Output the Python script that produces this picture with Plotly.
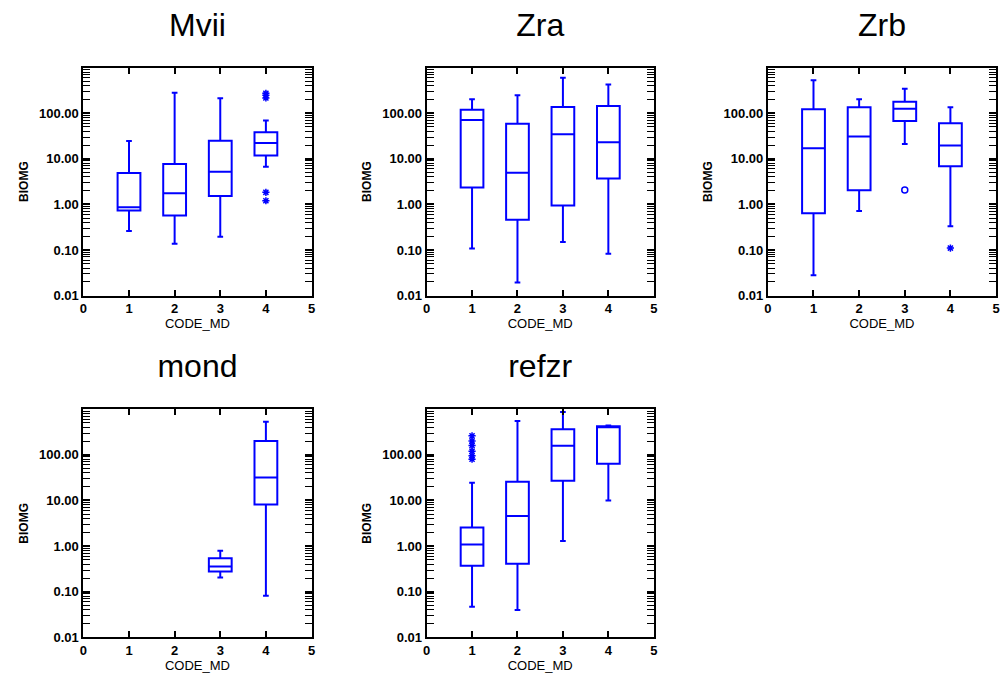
import plotly.graph_objects as go

W, H = 1004, 684

titles = ["Mvii", "Zra", "Zrb", "mond", "refzr"]

# ---- data ----
mvii_x = [1, 2, 3, 4]
mvii_q1 = [0.73, 0.57, 1.53, 11.9]
mvii_med = [0.86, 1.75, 5.2, 22.3]
mvii_q3 = [4.9, 7.7, 25, 38.4]
mvii_lo = [0.26, 0.136, 0.195, 6.7]
mvii_hi = [24.6, 283, 214, 69.5]
mvii_star_x = [4, 4, 4, 4, 4]
mvii_star_y = [274, 247, 217, 1.84, 1.2]

zra_x = [1, 2, 3, 4]
zra_q1 = [2.36, 0.46, 0.95, 3.68]
zra_med = [70.7, 4.96, 34.8, 23]
zra_q3 = [120, 59, 137, 144]
zra_lo = [0.108, 0.0194, 0.15, 0.083]
zra_hi = [203, 248, 604, 427]

zrb_x = [1, 2, 3, 4]
zrb_q1 = [0.64, 2.03, 67.3, 6.9]
zrb_med = [17.1, 31, 126, 19.5]
zrb_q3 = [122, 135, 178, 60]
zrb_lo = [0.028, 0.72, 21.2, 0.33]
zrb_hi = [530, 203, 345, 135]
zrb_circ_x = [3]
zrb_circ_y = [2.07]
zrb_star_x = [4]
zrb_star_y = [0.11]

mond_x = [3, 4]
mond_q1 = [0.277, 8.2]
mond_med = [0.36, 31.8]
mond_q3 = [0.54, 201]
mond_lo = [0.206, 0.082]
mond_hi = [0.79, 531]

refzr_x = [1, 2, 3, 4]
refzr_q1 = [0.37, 0.41, 27, 63.5]
refzr_med = [1.09, 4.6, 157, 425]
refzr_q3 = [2.56, 25.7, 364, 425]
refzr_lo = [0.047, 0.04, 1.3, 10]
refzr_hi = [24.4, 550, 870, 440]
refzr_star_x = [1, 1, 1, 1, 1, 1]
refzr_star_y = [80, 95, 120, 160, 200, 260]

ytick_vals = [0.01, 0.1, 1, 10, 100]
ytick_text = ["0.01", "0.10", "1.00", "10.00", "100.00"]
xtick_vals = [0, 1, 2, 3, 4, 5]

panels = [
    dict(x=mvii_x, q1=mvii_q1, med=mvii_med, q3=mvii_q3, lo=mvii_lo, hi=mvii_hi,
         star=(mvii_star_x, mvii_star_y), circ=None),
    dict(x=zra_x, q1=zra_q1, med=zra_med, q3=zra_q3, lo=zra_lo, hi=zra_hi,
         star=None, circ=None),
    dict(x=zrb_x, q1=zrb_q1, med=zrb_med, q3=zrb_q3, lo=zrb_lo, hi=zrb_hi,
         star=(zrb_star_x, zrb_star_y), circ=(zrb_circ_x, zrb_circ_y)),
    dict(x=mond_x, q1=mond_q1, med=mond_med, q3=mond_q3, lo=mond_lo, hi=mond_hi,
         star=None, circ=None),
    dict(x=refzr_x, q1=refzr_q1, med=refzr_med, q3=refzr_q3, lo=refzr_lo, hi=refzr_hi,
         star=(refzr_star_x, refzr_star_y), circ=None),
]

# pixel boxes (left, right, top, bottom)
boxes = [
    (80, 310, 68.5, 299),
    (426, 655, 68.5, 299),
    (770, 1000, 68.5, 299),
    (80, 310, 414, 645),
    (426, 655, 414, 645),
]

BLUE = "#0000ff"
FONT = "Arial, Liberation Sans, sans-serif"

fig = go.Figure()
layout = dict(
    width=W, height=H, margin=dict(l=0, r=0, t=0, b=0),
    paper_bgcolor="white", plot_bgcolor="white", showlegend=False,
    font=dict(family=FONT, color="black"),
)

for i, (p, b, title) in enumerate(zip(panels, boxes, titles)):
    n = "" if i == 0 else str(i + 1)
    xa, ya = "x" + n, "y" + n
    tn = str(6 + i)  # overlay top axis carrying the panel title
    fig.add_trace(go.Box(
        x=p["x"], q1=p["q1"], median=p["med"], q3=p["q3"],
        lowerfence=p["lo"], upperfence=p["hi"], boxpoints=False,
        width=0.5, whiskerwidth=0.25,
        line=dict(color=BLUE, width=2), fillcolor="rgba(0,0,0,0)",
        xaxis=xa, yaxis=ya, hoverinfo="skip",
    ))
    if p["star"]:
        fig.add_trace(go.Scatter(
            x=p["star"][0], y=p["star"][1], mode="markers",
            marker=dict(symbol="asterisk-open", size=6, color=BLUE,
                        line=dict(color=BLUE, width=1.5)),
            xaxis=xa, yaxis=ya,
        ))
    if p["circ"]:
        fig.add_trace(go.Scatter(
            x=p["circ"][0], y=p["circ"][1], mode="markers",
            marker=dict(symbol="circle-open", size=6, color=BLUE,
                        line=dict(color=BLUE, width=1.5)),
            xaxis=xa, yaxis=ya,
        ))
    # empty trace so the title axis is drawn
    fig.add_trace(go.Scatter(x=[], y=[], mode="markers", xaxis="x" + tn, yaxis=ya,
                             hoverinfo="skip"))
    l, r, t, bt = b
    xdom = [l / W, r / W]
    ydom = [(H - bt) / H, (H - t) / H]
    layout["xaxis" + n] = dict(
        domain=xdom, anchor=ya, range=[0, 5], tickmode="array", tickvals=xtick_vals,
        ticks="inside", ticklen=6, tickwidth=2, tickcolor="black",
        showline=True, linewidth=2, linecolor="black", mirror="allticks",
        showgrid=False, zeroline=False,
        tickfont=dict(size=13, family=FONT, weight="bold"),
        title=dict(text="CODE_MD", font=dict(size=13, family=FONT), standoff=2),
    )
    layout["xaxis" + tn] = dict(
        overlaying=xa, anchor=ya, side="top", range=[0, 5],
        showticklabels=False, ticks="", showline=False, showgrid=False, zeroline=False,
        title=dict(text=title, font=dict(size=32, family=FONT, color="black"), standoff=20),
    )
    layout["yaxis" + n] = dict(
        domain=ydom, anchor=xa, type="log", range=[-2, 3],
        tickmode="array", tickvals=ytick_vals, ticktext=ytick_text,
        ticks="inside", ticklen=7, tickwidth=2, tickcolor="black",
        minor=dict(dtick="D1", ticks="inside", ticklen=4, tickwidth=1,
                   tickcolor="black", showgrid=False),
        showline=True, linewidth=2, linecolor="black", mirror="allticks",
        showgrid=False, zeroline=False,
        tickfont=dict(size=13, family=FONT, weight="bold"),
        title=dict(text="BIOMG", font=dict(size=12, family=FONT, weight="bold"), standoff=8),
    )

fig.update_layout(**layout)
fig.write_html("out.html")
